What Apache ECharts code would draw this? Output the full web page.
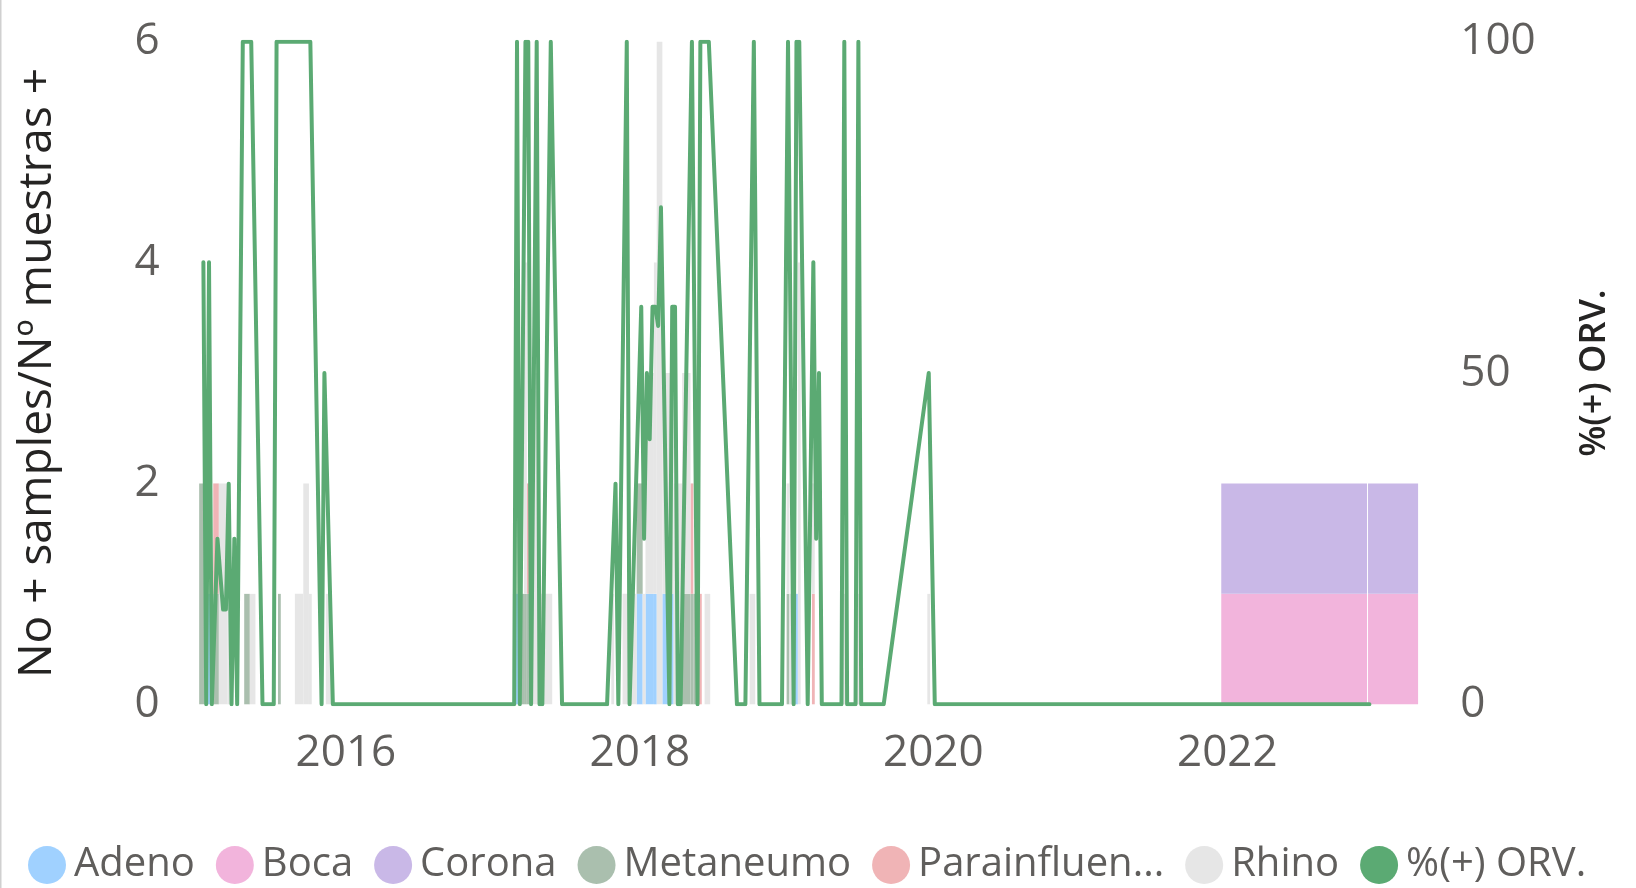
<!DOCTYPE html>
<html><head><meta charset="utf-8">
<script src="https://cdn.jsdelivr.net/npm/echarts@6/dist/echarts.min.js"></script>
<style>html,body{margin:0;padding:0;background:#fff}#c{width:1636px;height:888px}</style>
</head><body><div id="c"></div>
<script>
// ---- data ----
const virusNames = ['Adeno', 'Boca', 'Corona', 'Metaneumo', 'Parainfluenza', 'Rhino'];
const lineName = '%(+) ORV.';

// stacked bar records (epidemiological weeks, inclusive)
const barStart = [
  '2015-W01','2015-W04','2015-W06','2015-W08','2015-W11','2015-W17','2015-W19','2015-W29','2015-W35','2015-W38','2015-W40','2015-W46',
  '2017-W08','2017-W09','2017-W11','2017-W12','2017-W13','2017-W14','2017-W15','2017-W17','2017-W43','2017-W47',
  '2017-W52','2018-W02','2018-W03','2018-W06','2018-W07','2018-W09','2018-W13','2018-W16','2018-W19','2018-W20','2018-W22','2018-W24','2018-W40',
  '2019-W01','2019-W02','2019-W04','2019-W05','2019-W10','2019-W21','2019-W26','2019-W51',
  '2021-W51','2022-W51'];
const barEnd = [
  '2015-W02','2015-W04','2015-W07','2015-W10','2015-W12','2015-W18','2015-W20','2015-W29','2015-W37','2015-W39','2015-W40','2015-W47',
  '2017-W08','2017-W09','2017-W11','2017-W12','2017-W13','2017-W14','2017-W16','2017-W21','2017-W43','2017-W51',
  '2018-W01','2018-W02','2018-W05','2018-W06','2018-W08','2018-W12','2018-W15','2018-W18','2018-W19','2018-W20','2018-W22','2018-W25','2018-W41',
  '2019-W01','2019-W03','2019-W04','2019-W05','2019-W10','2019-W21','2019-W26','2019-W51',
  '2022-W50','2023-W16'];
const adeno = [0,1,0,0,0,0,0,0,0,0,0,0, 0,1,0,0,0,0,0,0,0,0, 1,0,1,1,0,1,0,0,0,0,0,0,0, 0,0,1,0,0,0,0,0, 0,0];
const boca = [0,0,0,0,0,0,0,0,0,0,0,0, 0,0,0,0,0,0,0,0,0,0, 0,0,0,0,0,0,0,0,0,0,0,0,0, 0,0,0,0,0,0,0,0, 1,1];
const corona = [0,0,0,0,0,0,0,0,0,0,0,0, 0,0,0,0,0,0,0,0,0,0, 0,0,0,0,0,0,0,0,0,0,0,0,0, 0,0,0,0,0,0,0,0, 1,1];
const metaneumo = [2,0,1,0,0,1,0,1,0,0,0,0, 0,0,1,1,1,1,0,0,0,0, 1,0,0,0,0,0,0,1,1,1,0,0,0, 1,0,0,0,0,0,0,0, 0,0];
const parainfluenza = [0,0,1,0,0,0,0,0,0,0,0,0, 0,0,0,0,1,0,0,0,0,0, 0,0,0,0,0,0,0,0,1,0,1,0,0, 0,0,0,0,1,0,0,0, 0,0];
const rhino = [0,0,0,2,1,0,1,0,1,2,1,1, 1,0,0,3,0,0,3,1,1,1, 0,1,2,3,6,2,2,2,0,0,0,1,1, 1,1,0,4,1,1,1,1, 0,0];

// %(+) ORV. line
const orvWeeks = [
  '2015-W02','2015-W03','2015-W04','2015-W05','2015-W07','2015-W09','2015-W10','2015-W11','2015-W12','2015-W13','2015-W14','2015-W16','2015-W19','2015-W23','2015-W27','2015-W28','2015-W40','2015-W44','2015-W45','2015-W48',
  '2017-W08','2017-W09','2017-W10','2017-W12','2017-W13','2017-W14','2017-W16','2017-W17','2017-W18','2017-W21','2017-W25','2017-W41','2017-W44','2017-W45','2017-W48','2017-W49',
  '2018-W01','2018-W02','2018-W03','2018-W04','2018-W05','2018-W06','2018-W07','2018-W08','2018-W11','2018-W12','2018-W13','2018-W14','2018-W15','2018-W19','2018-W21','2018-W22','2018-W25','2018-W35','2018-W38','2018-W41','2018-W43','2018-W51',
  '2019-W01','2019-W03','2019-W04','2019-W05','2019-W08','2019-W10','2019-W11','2019-W12','2019-W13','2019-W20','2019-W21','2019-W22','2019-W25','2019-W26','2019-W27','2019-W35','2019-W51',
  '2020-W01','2022-W51'];
const orvValues = [
  66.7,0,66.7,0,25,14.3,14.3,33.3,0,25,0,100,100,0,0,100,100,0,50,0,
  0,100,0,100,100,0,100,0,0,100,0,0,33.3,0,100,0,
  60,25,50,40,60,60,57.1,75,0,60,60,0,0,100,0,100,100,0,0,100,0,0,
  100,0,100,100,0,66.7,25,50,0,0,100,0,0,100,0,0,50,
  0,0];

const leftAxisName = 'No + samples/Nº muestras +';
const rightAxisName = '%(+) ORV.';

// ---- styles ----
const virusColors = ['#A0D1FF', '#F2B4DC', '#C9B8E7', '#AABFAE', '#F0B4B6', '#E6E6E6'];
const lineColor = '#5BAA73';
const FONT = 'Open Sans';

// ---- helpers ----
const DAY = 86400000;
function weekCenter(label) {
  const parts = label.split('-W');
  const y = Number(parts[0]), w = Number(parts[1]);
  return new Date(y, 0, 1 + (w - 1) * 7 + 3, 12).getTime();
}
const valueTable = [adeno, boca, corona, metaneumo, parainfluenza, rhino];

const series = virusNames.map((name, vi) => {
  const data = [];
  for (let r = 0; r < barStart.length; r++) {
    const v = valueTable[vi][r];
    if (!v) continue;
    let base = 0;
    for (let k = 0; k < vi; k++) base += valueTable[k][r];
    data.push([weekCenter(barStart[r]) - 3.5 * DAY, weekCenter(barEnd[r]) + 3.5 * DAY, base, base + v]);
  }
  return {
    name: name,
    type: 'custom',
    xAxisIndex: 0, yAxisIndex: 0,
    itemStyle: { color: virusColors[vi] },
    encode: { x: [0, 1], y: [2, 3] },
    z: 2,
    silent: true,
    renderItem: function (params, api) {
      const p0 = api.coord([api.value(0), api.value(2)]);
      const p1 = api.coord([api.value(1), api.value(3)]);
      let w = p1[0] - p0[0];
      if (w > 20) w -= 1;
      return {
        type: 'rect',
        shape: { x: p0[0], y: p1[1], width: w, height: p0[1] - p1[1] },
        style: { fill: virusColors[vi] }
      };
    },
    data: data
  };
});

series.push({
  name: lineName,
  type: 'line',
  yAxisIndex: 1,
  symbol: 'none',
  z: 5,
  itemStyle: { color: lineColor },
  lineStyle: { color: lineColor, width: 4, cap: 'round', join: 'round' },
  data: orvWeeks.map((w, i) => [weekCenter(w), orvValues[i]])
});

const chart = echarts.init(document.getElementById('c'), null, { renderer: 'canvas' });
chart.setOption({
  animation: false,
  backgroundColor: '#ffffff',
  textStyle: { fontFamily: FONT },
  grid: { left: 186.7, right: 213.7, top: 41.7, bottom: 183.7, containLabel: false },
  legend: {
    left: 23, top: 840,
    icon: 'circle', itemWidth: 38, itemHeight: 38, itemGap: 21,
    data: virusNames.concat([lineName]),
    formatter: function (n) { return n === 'Parainfluenza' ? 'Parainfluen...' : n; },
    textStyle: { fontFamily: FONT, fontSize: 40, color: '#605E5C', padding: [0, 0, 0, 3] }
  },
  xAxis: {
    type: 'time',
    min: new Date(2014, 11, 1).getTime(),
    max: new Date(2023, 4, 1).getTime(),
    minInterval: 365 * DAY,
    maxInterval: 366 * DAY,
    axisLine: { show: false }, axisTick: { show: false }, splitLine: { show: false },
    axisLabel: {
      fontFamily: FONT, fontSize: 44, color: '#605E5C', margin: 27,
      showMinLabel: false, showMaxLabel: false,
      formatter: function (v) {
        const d = new Date(v);
        if (d.getMonth() !== 0 || d.getDate() !== 1) return '';
        const y = d.getFullYear();
        return y % 2 === 0 ? String(y) : '';
      }
    }
  },
  yAxis: [{
    type: 'value', min: 0, max: 6, interval: 2, position: 'left',
    axisLine: { show: false }, axisTick: { show: false }, splitLine: { show: false },
    axisLabel: { fontFamily: FONT, fontSize: 44, color: '#605E5C', margin: 27 },
    name: leftAxisName, nameLocation: 'middle', nameGap: 126,
    nameTextStyle: { fontFamily: FONT, fontSize: 46, color: '#252423' }
  }, {
    type: 'value', min: 0, max: 100, interval: 50, position: 'right',
    axisLine: { show: false }, axisTick: { show: false }, splitLine: { show: false },
    axisLabel: { fontFamily: FONT, fontSize: 44, color: '#605E5C', margin: 38 },
    name: rightAxisName, nameLocation: 'middle', nameGap: 154,
    nameTextStyle: { fontFamily: FONT, fontSize: 36, fontWeight: 600, color: '#252423' }
  }],
  graphic: [{ type: 'rect', left: 0, top: 0, shape: { width: 1.5, height: 888 }, style: { fill: '#D0D0D0' }, silent: true }],
  series: series
});
</script>
</body></html>
